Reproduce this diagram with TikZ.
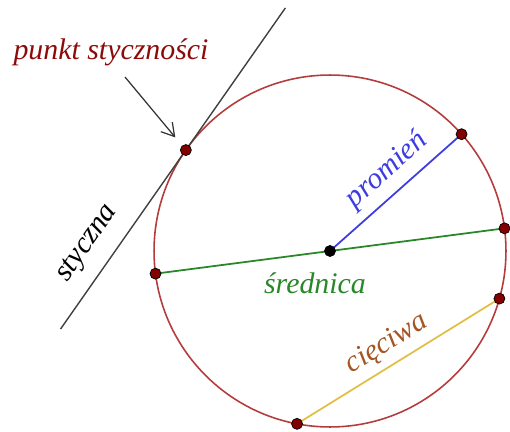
\documentclass[tikz,border=0pt]{standalone}
\usepackage{fontspec}
\setmainfont{Liberation Serif}
\usetikzlibrary{arrows.meta}

\definecolor{circred}{RGB}{180,60,60}
\definecolor{dotred}{RGB}{130,0,0}
\definecolor{labred}{RGB}{140,10,10}
\definecolor{radblue}{RGB}{60,60,225}
\definecolor{diamgreen}{RGB}{40,135,40}
\definecolor{chordyellow}{RGB}{225,190,70}
\definecolor{chordbrown}{RGB}{165,85,35}

\tikzset{
  pt/.style={circle, draw=black, fill=dotred, inner sep=0pt, minimum size=0.22cm},
  lbl/.style={font=\fontsize{17}{20}\selectfont\itshape}
}

\begin{document}
\begin{tikzpicture}[x=0.02cm, y=-0.02cm]
\useasboundingbox (0,0) rectangle (510,432);

% --- Circle ---
\coordinate (O) at (330,251);
\def\rad{3.52cm}
\draw[circred, line width=0.9pt] (O) circle (\rad);

% --- Points on the circle ---
\coordinate (T) at ([shift={(145:\rad)}]O);
\coordinate (R) at ([shift={(41.6:\rad)}]O);
\coordinate (D1) at ([shift={(187.4:\rad)}]O);
\coordinate (D2) at ([shift={(7.4:\rad)}]O);
\coordinate (C1) at ([shift={(259.2:\rad)}]O);
\coordinate (C2) at ([shift={(-15.7:\rad)}]O);

% --- Tangent line ---
\coordinate (Ttop) at ([shift={(55:3.47cm)}]T);
\coordinate (Tbot) at ([shift={(235:4.37cm)}]T);
\draw[black!75, line width=0.8pt] (Tbot) -- (Ttop);

% --- Segments ---
\draw[radblue, line width=1pt] (O) -- (R);
\draw[diamgreen, line width=1pt] (D1) -- (D2);
\draw[chordyellow, line width=1pt] (C1) -- (C2);

% --- Dots ---
\foreach \p in {T,R,D1,D2,C1,C2}
  \node[pt] (dot\p) at (\p) {};
\node[pt, fill=black] (center) at (O) {};

% --- Labels ---
\node[lbl, text=labred] (punkt) at (111,52) {punkt styczności};
\coordinate (arrtail) at (125,77);
\draw[-{Straight Barb[length=2.5mm, width=3mm]}, black!80, line width=0.7pt, shorten >=0.33cm] (arrtail) -- (T);

\node[lbl, rotate=55] (styczna) at (88,244) {styczna};
\node[lbl, text=radblue, rotate=41.6] (promien) at (387,170) {promień};
\node[lbl, text=diamgreen] (srednica) at (315,283) {średnica};
\node[lbl, text=chordbrown, rotate=31.5] (cieciwa) at (387,344) {cięciwa};

\end{tikzpicture}
\end{document}
